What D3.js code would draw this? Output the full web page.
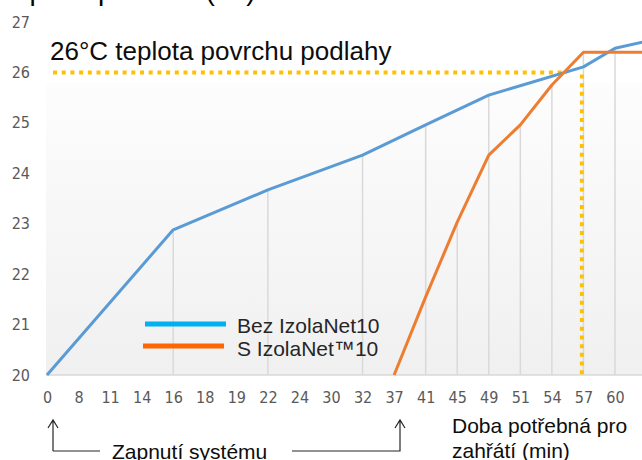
<!DOCTYPE html>
<html>
<head>
<meta charset="utf-8">
<title>Doba zahřátí podlahy</title>
<style>
html, body { margin: 0; padding: 0; background: #ffffff; }
#chart { width: 642px; height: 460px; overflow: hidden; }
text { font-family: 'Liberation Sans', Arial, sans-serif; }
.axis text { font-family: 'Liberation Sans Narrow', 'DejaVu Sans Condensed', sans-serif; font-size: 16px; fill: #595959; }
.axis path, .axis line { display: none; }
</style>
<script src="https://cdnjs.cloudflare.com/ajax/libs/d3/7.8.5/d3.min.js"></script>
</head>
<body>
<div id="chart"></div>
<script>

// minutes since the system was switched on (category axis)
var minutes = ["0", "8", "11", "14", "16", "18", "19", "22", "24", "30",
               "32", "37", "41", "45", "49", "51", "54", "57", "60", "63"];

// floor surface temperature, °C (null = no reading at that minute)
var bez = [20, null, null, null, 22.88, null, null, 23.67, null, null,
           24.36, null, 24.96, null, 25.55, null, null, 26.11, 26.48, 26.62];
var sIzola = [null, null, null, null, null, null, null, null, null, null,
              null, 20, 21.55, 23.03, 24.36, 24.96, 25.75, 26.4, 26.4, 26.4];

var yTicks = [20, 21, 22, 23, 24, 25, 26, 27];
var seriesNames = ["Bez IzolaNet10", "S IzolaNet\u212210"];

var targetTemp = 26;        // 26 °C target line
var targetStart = 0.19;     // category positions of the dotted guide
var targetEnd = 16.48;
var heatTime = 16.95;

var width = 642, height = 460;

var svg = d3.select("#chart").append("svg")
            .attr("width", width)
            .attr("height", height);

var x = d3.scaleLinear().domain([0, 18]).range([47, 615]);
var y = d3.scaleLinear().domain([20, 27]).range([375, 22]);

// plot background gradient
var grad = svg.append("defs").append("linearGradient")
              .attr("id", "bg")
              .attr("x1", 0).attr("y1", 0).attr("x2", 0).attr("y2", 1);
grad.append("stop").attr("offset", "0%").attr("stop-color", "#fdfdfd");
grad.append("stop").attr("offset", "100%").attr("stop-color", "#f0f0f0");

svg.append("rect")
   .attr("x", 46).attr("y", 83)
   .attr("width", width - 46).attr("height", y(20) - 83)
   .attr("fill", "url(#bg)");

// axis title, cut off at the top
svg.append("text")
   .attr("x", 0).attr("y", 0)
   .style("font-size", "28px")
   .attr("fill", "#000")
   .text("Teplota povrchu (°C)");

// drop lines from the highest point at each minute
var drops = minutes.map(function(m, i) {
  var vals = [bez[i], sIzola[i]].filter(function(v) { return v != null; });
  return { i: i, top: vals.length ? d3.max(vals) : null };
}).filter(function(d) { return d.top != null && d.top > 20; });

svg.selectAll(".drop")
   .data(drops)
   .enter().append("line")
   .attr("class", "drop")
   .attr("x1", function(d) { return x(d.i); })
   .attr("x2", function(d) { return x(d.i); })
   .attr("y1", function(d) { return y(d.top); })
   .attr("y2", y(20))
   .attr("stroke", "#d9d9d9")
   .attr("stroke-width", 1.5);

// baseline
svg.append("line")
   .attr("x1", 46).attr("x2", width)
   .attr("y1", y(20)).attr("y2", y(20))
   .attr("stroke", "#d9d9d9")
   .attr("stroke-width", 1.5);

// axes (the last minute lies past the visible edge, so it gets no label)
var xAxis = d3.axisBottom(x)
              .tickValues(d3.range(minutes.length - 1))
              .tickFormat(function(i) { return minutes[i]; })
              .tickSize(0)
              .tickPadding(17);
svg.append("g")
   .attr("class", "axis")
   .attr("transform", "translate(0," + y(20) + ")")
   .call(xAxis);

var yAxis = d3.axisLeft(y)
              .tickValues(yTicks)
              .tickFormat(d3.format("d"))
              .tickSize(0)
              .tickPadding(0);
svg.append("g")
   .attr("class", "axis")
   .attr("transform", "translate(30,0)")
   .call(yAxis);

// 26 °C guide
svg.append("line")
   .attr("x1", x(targetStart)).attr("x2", x(targetEnd))
   .attr("y1", y(targetTemp)).attr("y2", y(targetTemp))
   .attr("stroke", "#ffc000")
   .attr("stroke-width", 4)
   .attr("stroke-dasharray", "4,4.7");

svg.append("line")
   .attr("x1", x(heatTime)).attr("x2", x(heatTime))
   .attr("y1", y(targetTemp) + 2).attr("y2", y(20))
   .attr("stroke", "#ffc000")
   .attr("stroke-width", 4)
   .attr("stroke-dasharray", "4,4.7");

// series lines
var line = d3.line()
             .x(function(d) { return x(d.i); })
             .y(function(d) { return y(d.v); });

function pts(arr) {
  return arr.map(function(v, i) { return { i: i, v: v }; })
            .filter(function(d) { return d.v != null; });
}

svg.append("path")
   .datum(pts(bez))
   .attr("d", line)
   .attr("fill", "none")
   .attr("stroke", "#5b9bd5")
   .attr("stroke-width", 3)
   .attr("stroke-linejoin", "round");

svg.append("path")
   .datum(pts(sIzola))
   .attr("d", line)
   .attr("fill", "none")
   .attr("stroke", "#ed7d31")
   .attr("stroke-width", 3)
   .attr("stroke-linejoin", "round");

// title inside the plot
svg.append("text")
   .attr("x", 50).attr("y", 60)
   .style("font-size", "26px")
   .attr("fill", "#0d0d0d")
   .text("26°C teplota povrchu podlahy");

// legend
var legend = svg.append("g");
var legendColors = ["#00b0f0", "#ff6600"];
legend.selectAll("line")
      .data(seriesNames)
      .enter().append("line")
      .attr("x1", function(d, i) { return 145 - i * 2; })
      .attr("x2", function(d, i) { return 226 - i * 2; })
      .attr("y1", function(d, i) { return 324 + i * 22; })
      .attr("y2", function(d, i) { return 324 + i * 22; })
      .attr("stroke", function(d, i) { return legendColors[i]; })
      .attr("stroke-width", 5);
legend.selectAll("text")
      .data(seriesNames)
      .enter().append("text")
      .attr("x", 237)
      .attr("y", function(d, i) { return 333 + i * 23; })
      .style("font-size", "21px")
      .attr("fill", "#262626")
      .text(function(d) { return d; });

// annotation arrows
var arrow = svg.append("g")
               .attr("fill", "none")
               .attr("stroke", "#262626")
               .attr("stroke-width", 1.2);
arrow.append("path").attr("d", "M53,451 L53,421 M48,428 L53,420 L58,428 M53,451 L100,451");
arrow.append("path").attr("d", "M292,451 L400,451 L400,421 M395,428 L400,420 L405,428");

svg.append("text")
   .attr("x", 112).attr("y", 459)
   .style("font-size", "21px")
   .attr("fill", "#0d0d0d")
   .text("Zapnutí systému");

svg.append("text")
   .attr("x", 452).attr("y", 433)
   .style("font-size", "21px")
   .attr("fill", "#0d0d0d")
   .text("Doba potřebná pro");
svg.append("text")
   .attr("x", 452).attr("y", 458)
   .style("font-size", "21px")
   .attr("fill", "#0d0d0d")
   .text("zahřátí (min)");

</script>
</body>
</html>
